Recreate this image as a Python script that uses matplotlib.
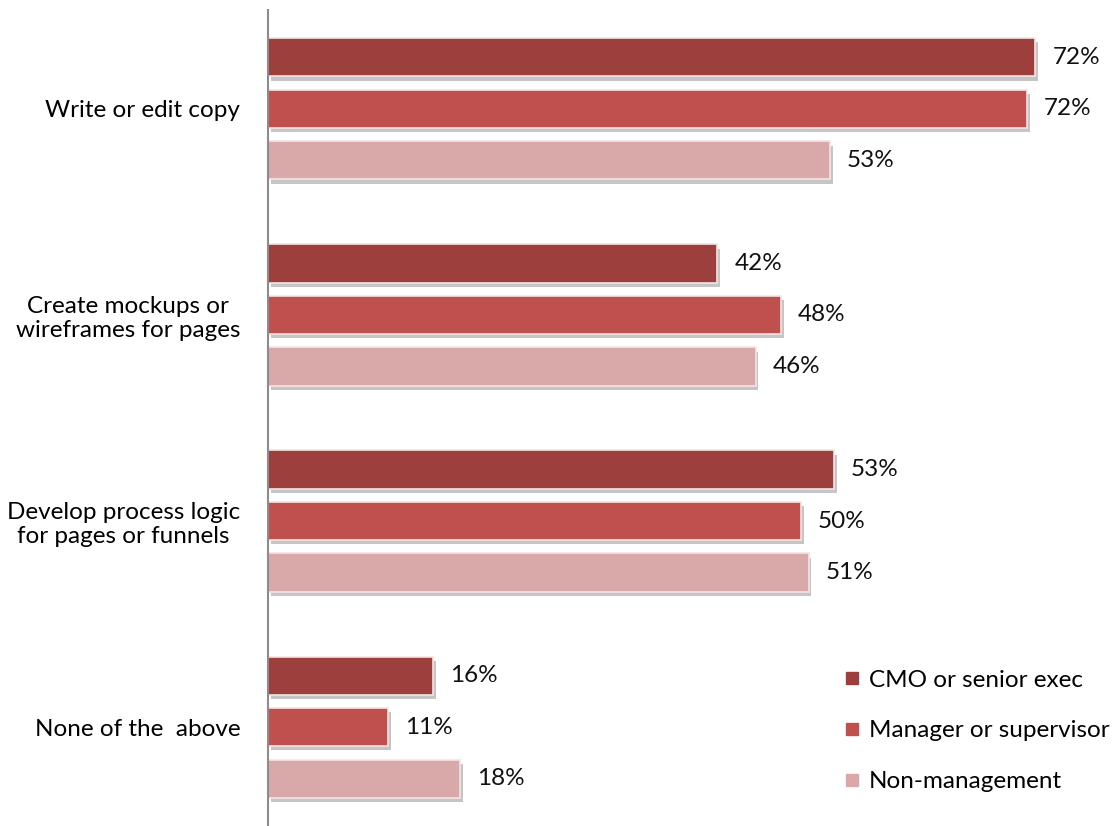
import matplotlib.pyplot as plt
import matplotlib.patheffects as pe
from matplotlib.lines import Line2D
import numpy as np

plt.rcParams['font.family'] = ['Lato', 'DejaVu Sans']

# Data
categories = ['Write or edit copy', 'Create mockups or\nwireframes for pages',
              'Develop process logic\nfor pages or funnels', 'None of the  above']
series_names = ['CMO or senior exec', 'Manager or supervisor', 'Non-management']
cmo = [72.4, 42.4, 53.4, 15.6]
manager = [71.6, 48.4, 50.3, 11.3]
non_mgmt = [53.0, 46.0, 51.0, 18.1]

colors = ['#9C3F3D', '#C0504D', '#D9A8A8']
series = [cmo, manager, non_mgmt]
offsets = [-0.25, 0.0, 0.25]

fig = plt.figure(figsize=(11.17, 8.26), dpi=100)
ax = fig.add_axes([268 / 1117, 0, 848 / 1117, 816 / 826])

y = np.arange(len(categories))
shadow = [pe.SimplePatchShadow(offset=(2, -3), shadow_rgbFace='#808080', alpha=0.45),
          pe.Normal()]

for vals, col, off in zip(series, colors, offsets):
    bars = ax.barh(y + off, vals, height=0.185, color=col,
                   edgecolor='#F4E4E4', linewidth=1.2)
    for b, v in zip(bars, vals):
        b.set_path_effects(shadow)
        ax.text(v + 1.6, b.get_y() + b.get_height() / 2, f'{v:.0f}%',
                va='center', ha='left', fontsize=17.5, color='#111111')

ax.set_xlim(0, 80)
ax.set_ylim(3.48, -0.48)
ax.set_yticks(y)
ax.set_yticklabels(categories, fontsize=17.5, multialignment='center')
ax.tick_params(axis='y', length=0, pad=20)
ax.set_xticks([])
for s in ['top', 'right', 'bottom']:
    ax.spines[s].set_visible(False)
ax.spines['left'].set_color('#8C8C8C')
ax.spines['left'].set_linewidth(1.5)

handles = [Line2D([], [], marker='s', linestyle='none', markersize=8,
                  markerfacecolor=c, markeredgecolor=c) for c in colors]
fig.legend(handles, series_names, loc='upper left', bbox_to_anchor=(834 / 1117, 1 - 660 / 826),
           frameon=False, fontsize=17.5, handlelength=0.7, handletextpad=0.35,
           labelspacing=1.22, borderaxespad=0)

fig.savefig('out.png', dpi=100)
